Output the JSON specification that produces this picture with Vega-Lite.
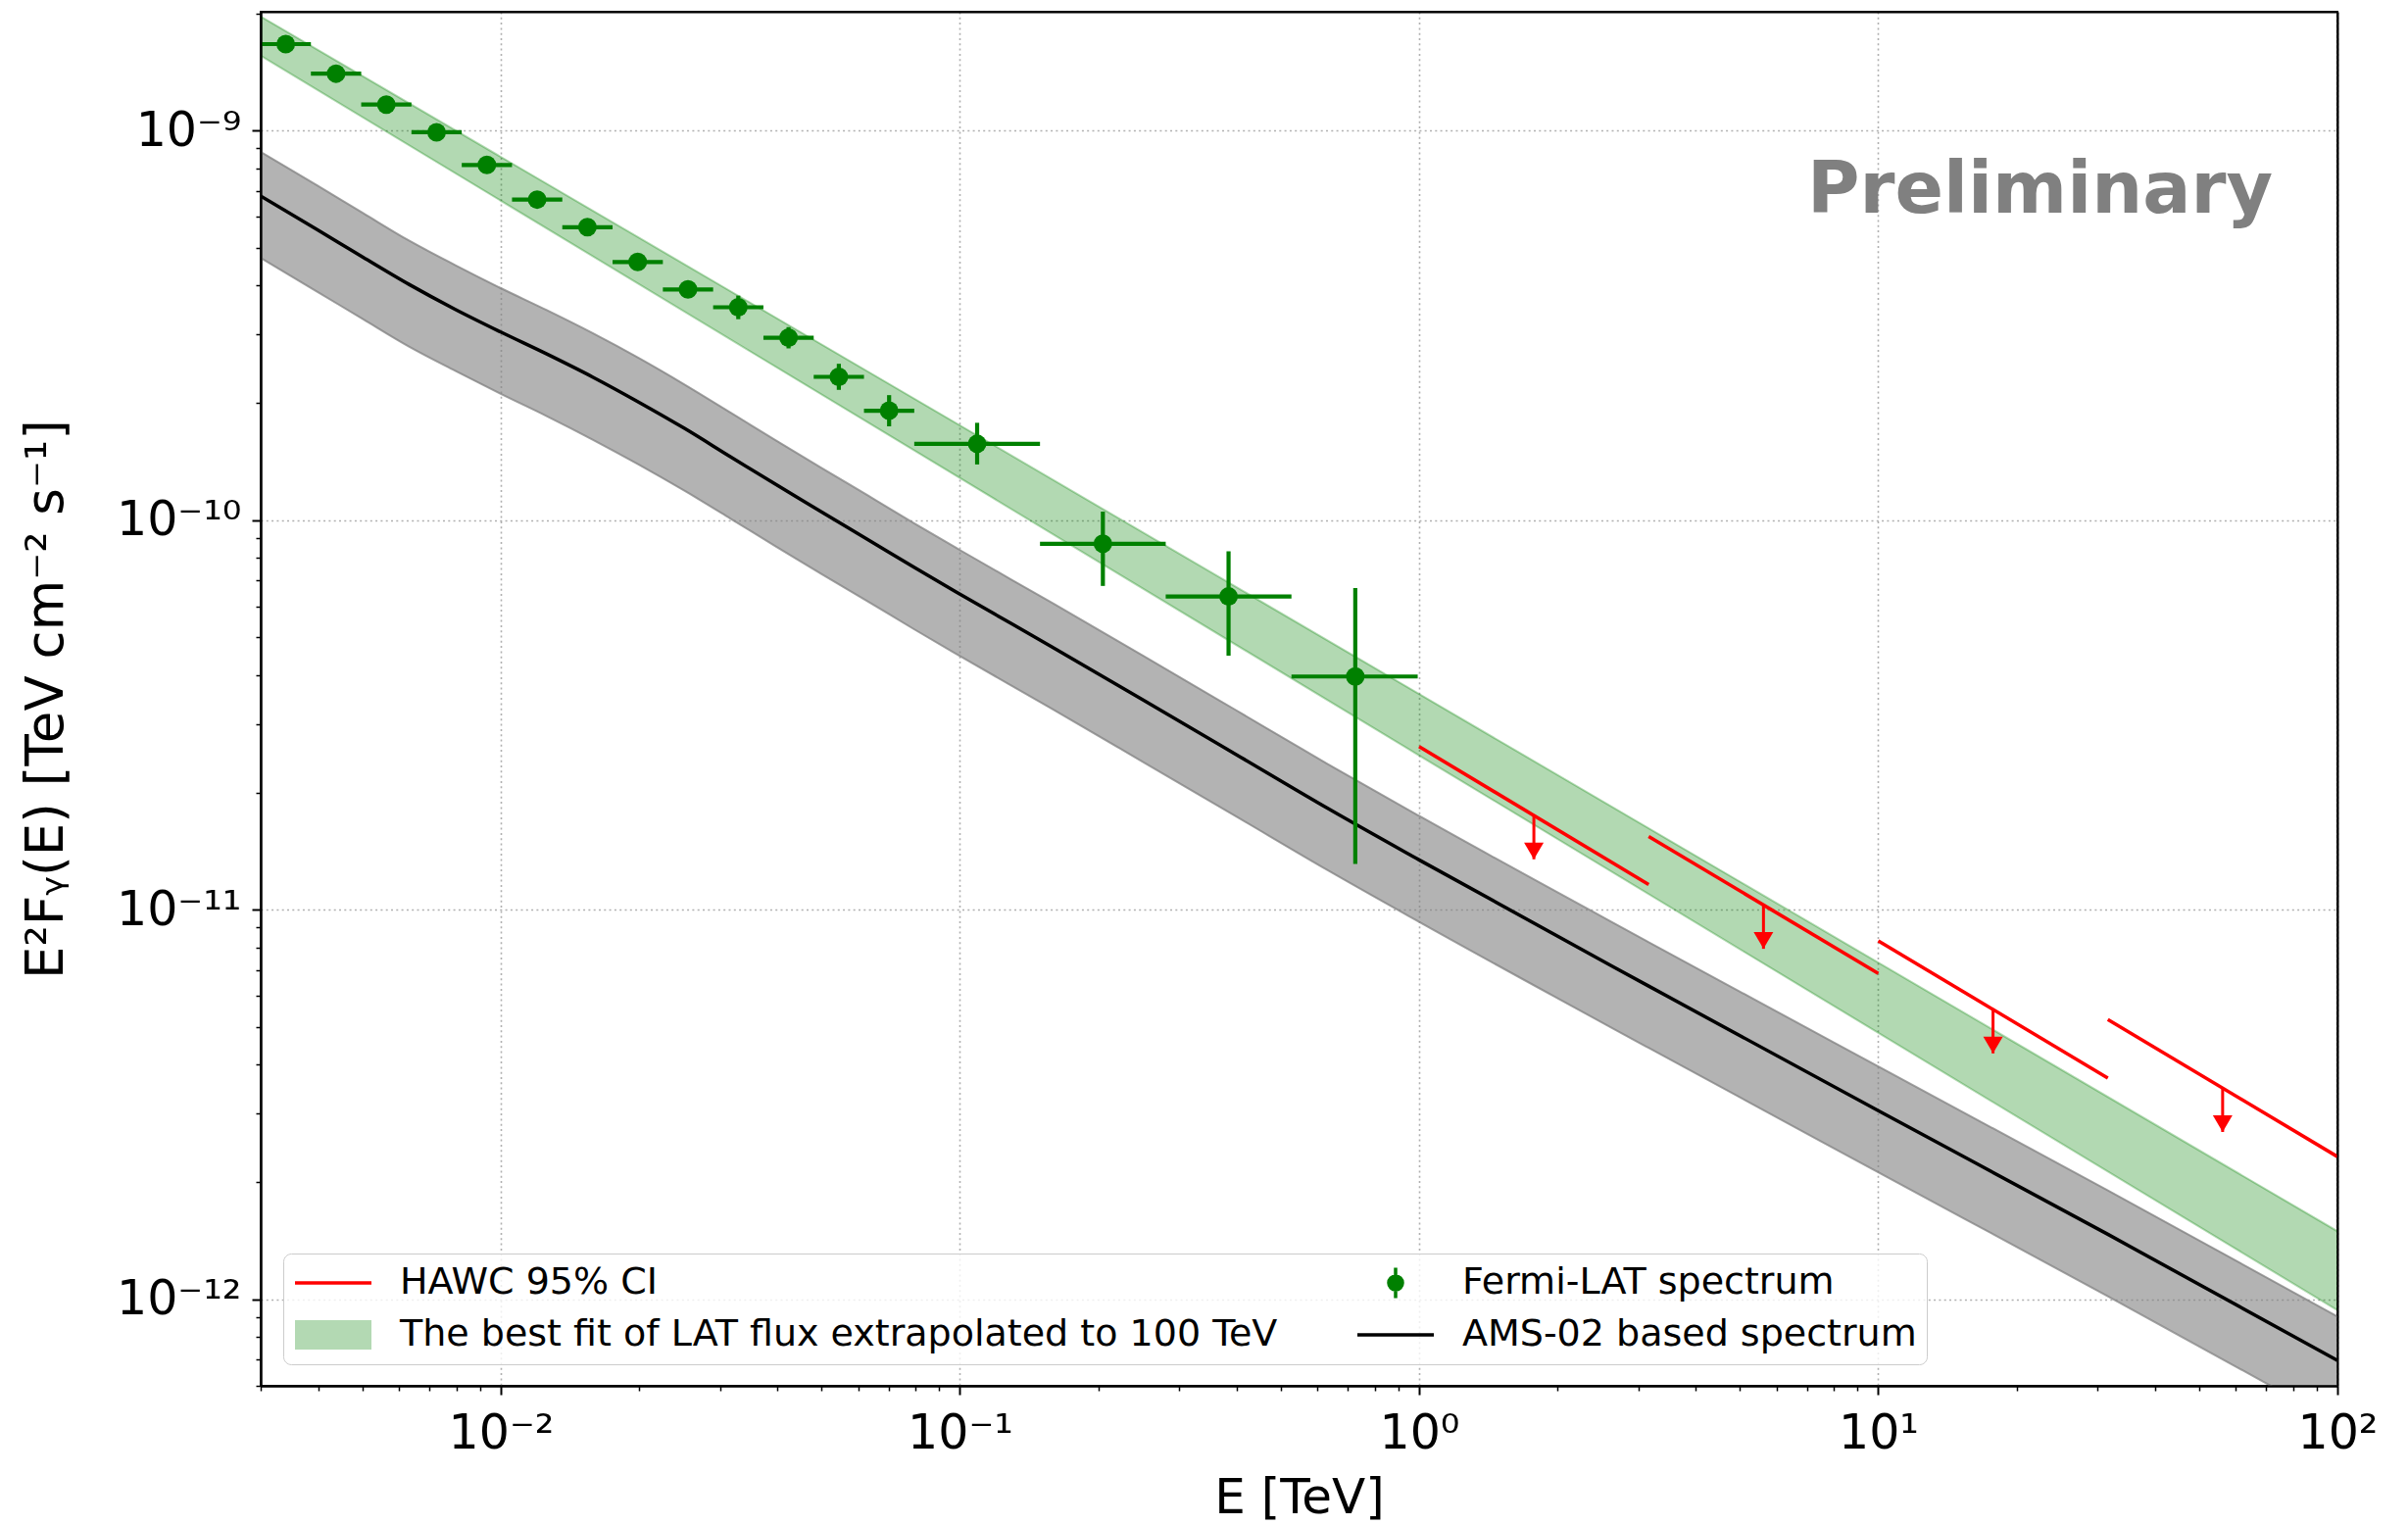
{
  "$schema": "https://vega.github.io/schema/vega-lite/v6.json",
  "width": 2119,
  "height": 1402,
  "autosize": {"type": "none"},
  "padding": {"left": 266, "top": 12, "right": 72, "bottom": 142},
  "background": "white",
  "config": {"view": {"stroke": "black", "strokeWidth": 2}, "font": "DejaVu Sans"},
  "resolve": {"axis": {"x": "independent", "y": "independent"}},
  "datasets": {
    "ams": [
      {"E": 0.003, "F": 6.79e-10, "lo": 4.71e-10, "hi": 8.81e-10},
      {"E": 0.003981, "F": 5.57e-10, "lo": 3.86e-10, "hi": 7.23e-10},
      {"E": 0.005012, "F": 4.73e-10, "lo": 3.28e-10, "hi": 6.14e-10},
      {"E": 0.00631, "F": 4.03e-10, "lo": 2.79e-10, "hi": 5.22e-10},
      {"E": 0.007943, "F": 3.48e-10, "lo": 2.42e-10, "hi": 4.52e-10},
      {"E": 0.01, "F": 3.04e-10, "lo": 2.11e-10, "hi": 3.94e-10},
      {"E": 0.01259, "F": 2.67e-10, "lo": 1.85e-10, "hi": 3.46e-10},
      {"E": 0.01585, "F": 2.33e-10, "lo": 1.61e-10, "hi": 3.02e-10},
      {"E": 0.01995, "F": 2.01e-10, "lo": 1.39e-10, "hi": 2.61e-10},
      {"E": 0.02512, "F": 1.72e-10, "lo": 1.19e-10, "hi": 2.23e-10},
      {"E": 0.03162, "F": 1.455e-10, "lo": 1.01e-10, "hi": 1.89e-10},
      {"E": 0.03981, "F": 1.233e-10, "lo": 8.55e-11, "hi": 1.6e-10},
      {"E": 0.05012, "F": 1.047e-10, "lo": 7.26e-11, "hi": 1.358e-10},
      {"E": 0.0631, "F": 8.91e-11, "lo": 6.18e-11, "hi": 1.156e-10},
      {"E": 0.07943, "F": 7.57e-11, "lo": 5.25e-11, "hi": 9.82e-11},
      {"E": 0.1, "F": 6.46e-11, "lo": 4.48e-11, "hi": 8.38e-11},
      {"E": 0.1585, "F": 4.73e-11, "lo": 3.28e-11, "hi": 6.14e-11},
      {"E": 0.2512, "F": 3.45e-11, "lo": 2.39e-11, "hi": 4.48e-11},
      {"E": 0.3981, "F": 2.51e-11, "lo": 1.74e-11, "hi": 3.26e-11},
      {"E": 0.631, "F": 1.824e-11, "lo": 1.265e-11, "hi": 2.37e-11},
      {"E": 1, "F": 1.343e-11, "lo": 9.31e-12, "hi": 1.742e-11},
      {"E": 3.162, "F": 6.37e-12, "lo": 4.42e-12, "hi": 8.26e-12},
      {"E": 10, "F": 3.05e-12, "lo": 2.12e-12, "hi": 3.96e-12},
      {"E": 31.62, "F": 1.469e-12, "lo": 1.019e-12, "hi": 1.905e-12},
      {"E": 100, "F": 6.97e-13, "lo": 4.83e-13, "hi": 9.04e-13}
    ],
    "fit": [
      {"E": 0.003, "lo": 1.557e-9, "hi": 1.963e-9},
      {"E": 1, "lo": 2.49e-11, "hi": 3.58e-11},
      {"E": 100, "lo": 9.38e-13, "hi": 1.496e-12}
    ],
    "fermi": [
      {"E": 0.003402, "F": 1.667e-9, "Elo": 0.003, "Ehi": 0.003859, "Flo": 1.635e-9, "Fhi": 1.7e-9},
      {"E": 0.004378, "F": 1.4e-9, "Elo": 0.003859, "Ehi": 0.004966, "Flo": 1.372e-9, "Fhi": 1.428e-9},
      {"E": 0.005633, "F": 1.166e-9, "Elo": 0.004966, "Ehi": 0.006389, "Flo": 1.142e-9, "Fhi": 1.19e-9},
      {"E": 0.007248, "F": 9.9e-10, "Elo": 0.006389, "Ehi": 0.008222, "Flo": 9.68e-10, "Fhi": 1.012e-9},
      {"E": 0.009327, "F": 8.16e-10, "Elo": 0.008222, "Ehi": 0.01058, "Flo": 7.96e-10, "Fhi": 8.36e-10},
      {"E": 0.012001, "F": 6.65e-10, "Elo": 0.01058, "Ehi": 0.013614, "Flo": 6.47e-10, "Fhi": 6.83e-10},
      {"E": 0.015443, "F": 5.65e-10, "Elo": 0.013614, "Ehi": 0.017518, "Flo": 5.48e-10, "Fhi": 5.82e-10},
      {"E": 0.019871, "F": 4.6e-10, "Elo": 0.017518, "Ehi": 0.022542, "Flo": 4.45e-10, "Fhi": 4.75e-10},
      {"E": 0.025571, "F": 3.91e-10, "Elo": 0.022542, "Ehi": 0.029007, "Flo": 3.77e-10, "Fhi": 4.06e-10},
      {"E": 0.032903, "F": 3.52e-10, "Elo": 0.029007, "Ehi": 0.037325, "Flo": 3.28e-10, "Fhi": 3.77e-10},
      {"E": 0.042339, "F": 2.94e-10, "Elo": 0.037325, "Ehi": 0.048028, "Flo": 2.76e-10, "Fhi": 3.13e-10},
      {"E": 0.054479, "F": 2.333e-10, "Elo": 0.048028, "Ehi": 0.061802, "Flo": 2.16e-10, "Fhi": 2.52e-10},
      {"E": 0.070103, "F": 1.91e-10, "Elo": 0.061802, "Ehi": 0.079524, "Flo": 1.741e-10, "Fhi": 2.094e-10},
      {"E": 0.109, "F": 1.57e-10, "Elo": 0.079524, "Ehi": 0.1494, "Flo": 1.39e-10, "Fhi": 1.778e-10},
      {"E": 0.20478, "F": 8.7e-11, "Elo": 0.1494, "Ehi": 0.28062, "Flo": 6.78e-11, "Fhi": 1.052e-10},
      {"E": 0.38459, "F": 6.37e-11, "Elo": 0.28062, "Ehi": 0.52722, "Flo": 4.49e-11, "Fhi": 8.32e-11},
      {"E": 0.72611, "F": 3.97e-11, "Elo": 0.52722, "Ehi": 0.993, "Flo": 1.311e-11, "Fhi": 6.7e-11}
    ],
    "hawc": [
      {"E1": 1, "E2": 3.162, "F1": 2.624e-11, "F2": 1.161e-11, "Ec": 1.778, "Fs": 1.745e-11, "Ft": 1.348e-11},
      {"E1": 3.162, "E2": 10, "F1": 1.543e-11, "F2": 6.86e-12, "Ec": 5.623, "Fs": 1.029e-11, "Ft": 7.94e-12},
      {"E1": 10, "E2": 31.62, "F1": 8.32e-12, "F2": 3.7e-12, "Ec": 17.78, "Fs": 5.548e-12, "Ft": 4.28e-12},
      {"E1": 31.62, "E2": 100, "F1": 5.23e-12, "F2": 2.325e-12, "Ec": 56.23, "Fs": 3.487e-12, "Ft": 2.69e-12}
    ],
    "note": [{"E": 22.5, "F": 6.17e-10, "label": "Preliminary"}],
    "legendItems": [
      {"series": "HAWC 95% CI"},
      {"series": "The best fit of LAT flux extrapolated to 100 TeV"},
      {"series": "Fermi-LAT spectrum"},
      {"series": "AMS-02 based spectrum"}
    ]
  },
  "layer": [
    {
      "data": {"name": "ams"},
      "mark": {"type": "area", "clip": true, "color": "#808080", "fillOpacity": 0.6, "interpolate": "monotone"},
      "encoding": {
        "x": {
          "field": "E", "type": "quantitative",
          "scale": {"type": "log", "domain": [0.003, 100], "nice": false},
          "axis": {
            "orient": "bottom",
            "values": [0.01, 0.1, 1, 10, 100],
            "title": "E [TeV]",
            "titleFont": "DejaVu Sans", "titleFontSize": 50, "titleFontWeight": "normal", "titleColor": "black",
            "titleY": 129, "titleBaseline": "alphabetic",
            "labelExpr": "datum.value < 0.05 ? '10⁻²' : datum.value < 0.5 ? '10⁻¹' : datum.value < 5 ? '10⁰' : datum.value < 50 ? '10¹' : '10²'",
            "labelFont": "DejaVu Sans", "labelFontSize": 49, "labelColor": "black",
            "labelPadding": 15, "labelFlush": false, "labelOverlap": false,
            "tickColor": "black", "tickSize": 9, "tickWidth": 2,
            "grid": true, "gridColor": "#b0b0b0", "gridDash": [2, 3.3], "gridWidth": 1.6,
            "domainColor": "black", "domainWidth": 2
          }
        },
        "y": {
          "field": "lo", "type": "quantitative",
          "scale": {"type": "log", "domain": [6e-13, 2.018e-9], "nice": false},
          "axis": {
            "orient": "left",
            "values": [1e-12, 1e-11, 1e-10, 1e-9],
            "title": "E²Fᵧ(E) [TeV cm⁻² s⁻¹]",
            "titleFont": "DejaVu Sans", "titleFontSize": 53, "titleFontWeight": "normal", "titleColor": "black",
            "titleX": -219, "titleBaseline": "middle",
            "labelExpr": "datum.value < 5e-12 ? '10⁻¹²' : datum.value < 5e-11 ? '10⁻¹¹' : datum.value < 5e-10 ? '10⁻¹⁰' : '10⁻⁹'",
            "labelFont": "DejaVu Sans", "labelFontSize": 49, "labelColor": "black",
            "labelPadding": 11, "labelOverlap": false, "labelFlush": false,
            "tickColor": "black", "tickSize": 9, "tickWidth": 2,
            "grid": true, "gridColor": "#b0b0b0", "gridDash": [2, 3.3], "gridWidth": 1.6,
            "domainColor": "black", "domainWidth": 2
          }
        },
        "y2": {"field": "hi"}
      }
    },
    {
      "data": {"name": "ams"},
      "mark": {"type": "line", "clip": true, "color": "#808080", "strokeOpacity": 0.75, "strokeWidth": 2, "interpolate": "monotone"},
      "encoding": {
        "x": {
          "field": "E", "type": "quantitative",
          "scale": {"type": "log", "domain": [0.003, 100], "nice": false},
          "axis": {
            "orient": "bottom", "zindex": 1,
            "values": [0.003,0.004,0.005,0.006,0.007,0.008,0.009,0.02,0.03,0.04,0.05,0.06,0.07,0.08,0.09,0.2,0.3,0.4,0.5,0.6,0.7,0.8,0.9,2,3,4,5,6,7,8,9,20,30,40,50,60,70,80,90],
            "title": null, "labels": false, "grid": false,
            "domain": true, "domainColor": "black", "domainWidth": 2,
            "tickColor": "black", "tickSize": 5, "tickWidth": 1.5
          }
        },
        "y": {
          "field": "hi", "type": "quantitative",
          "scale": {"type": "log", "domain": [6e-13, 2.018e-9], "nice": false},
          "axis": {
            "orient": "left", "zindex": 1,
            "values": [6e-13,7e-13,8e-13,9e-13,2e-12,3e-12,4e-12,5e-12,6e-12,7e-12,8e-12,9e-12,2e-11,3e-11,4e-11,5e-11,6e-11,7e-11,8e-11,9e-11,2e-10,3e-10,4e-10,5e-10,6e-10,7e-10,8e-10,9e-10,2e-9],
            "title": null, "labels": false, "grid": false,
            "domain": true, "domainColor": "black", "domainWidth": 2,
            "tickColor": "black", "tickSize": 5, "tickWidth": 1.5
          }
        }
      }
    },
    {
      "data": {"name": "ams"},
      "mark": {"type": "line", "clip": true, "color": "#808080", "strokeOpacity": 0.75, "strokeWidth": 2, "interpolate": "monotone"},
      "encoding": {
        "x": {
          "field": "E", "type": "quantitative",
          "scale": {"type": "log", "domain": [0.003, 100], "nice": false},
          "axis": {
            "orient": "top", "zindex": 1, "values": [],
            "title": null, "labels": false, "ticks": false, "grid": false,
            "domain": true, "domainColor": "black", "domainWidth": 2
          }
        },
        "y": {
          "field": "lo", "type": "quantitative",
          "scale": {"type": "log", "domain": [6e-13, 2.018e-9], "nice": false},
          "axis": {
            "orient": "right", "zindex": 1, "values": [],
            "title": null, "labels": false, "ticks": false, "grid": false,
            "domain": true, "domainColor": "black", "domainWidth": 2
          }
        }
      }
    },
    {
      "data": {"name": "fit"},
      "mark": {"type": "area", "clip": true, "color": "green", "fillOpacity": 0.3},
      "encoding": {
        "x": {"field": "E", "type": "quantitative", "scale": {"type": "log", "domain": [0.003, 100], "nice": false}, "axis": null},
        "y": {"field": "lo", "type": "quantitative", "scale": {"type": "log", "domain": [6e-13, 2.018e-9], "nice": false}, "axis": null},
        "y2": {"field": "hi"}
      }
    },
    {
      "data": {"name": "fit"},
      "mark": {"type": "line", "clip": true, "color": "green", "strokeOpacity": 0.3, "strokeWidth": 2},
      "encoding": {
        "x": {"field": "E", "type": "quantitative", "scale": {"type": "log", "domain": [0.003, 100], "nice": false}, "axis": null},
        "y": {"field": "hi", "type": "quantitative", "scale": {"type": "log", "domain": [6e-13, 2.018e-9], "nice": false}, "axis": null}
      }
    },
    {
      "data": {"name": "fit"},
      "mark": {"type": "line", "clip": true, "color": "green", "strokeOpacity": 0.3, "strokeWidth": 2},
      "encoding": {
        "x": {"field": "E", "type": "quantitative", "scale": {"type": "log", "domain": [0.003, 100], "nice": false}, "axis": null},
        "y": {"field": "lo", "type": "quantitative", "scale": {"type": "log", "domain": [6e-13, 2.018e-9], "nice": false}, "axis": null}
      }
    },
    {
      "data": {"name": "ams"},
      "mark": {"type": "line", "clip": true, "color": "black", "strokeWidth": 3.5, "interpolate": "monotone"},
      "encoding": {
        "x": {"field": "E", "type": "quantitative", "scale": {"type": "log", "domain": [0.003, 100], "nice": false}, "axis": null},
        "y": {"field": "F", "type": "quantitative", "scale": {"type": "log", "domain": [6e-13, 2.018e-9], "nice": false}, "axis": null}
      }
    },
    {
      "data": {"name": "hawc"},
      "mark": {"type": "rule", "clip": true, "color": "red", "strokeWidth": 3.5},
      "encoding": {
        "x": {"field": "E1", "type": "quantitative", "scale": {"type": "log", "domain": [0.003, 100], "nice": false}, "axis": null},
        "x2": {"field": "E2"},
        "y": {"field": "F1", "type": "quantitative", "scale": {"type": "log", "domain": [6e-13, 2.018e-9], "nice": false}, "axis": null},
        "y2": {"field": "F2"}
      }
    },
    {
      "data": {"name": "hawc"},
      "mark": {"type": "rule", "clip": true, "color": "red", "strokeWidth": 3},
      "encoding": {
        "x": {"field": "Ec", "type": "quantitative", "scale": {"type": "log", "domain": [0.003, 100], "nice": false}, "axis": null},
        "y": {"field": "Fs", "type": "quantitative", "scale": {"type": "log", "domain": [6e-13, 2.018e-9], "nice": false}, "axis": null},
        "y2": {"field": "Ft"}
      }
    },
    {
      "data": {"name": "hawc"},
      "mark": {"type": "point", "clip": true, "shape": "M-1,-1.7L1,-1.7L0,0Z", "size": 400, "filled": true, "color": "red", "opacity": 1},
      "encoding": {
        "x": {"field": "Ec", "type": "quantitative", "scale": {"type": "log", "domain": [0.003, 100], "nice": false}, "axis": null},
        "y": {"field": "Ft", "type": "quantitative", "scale": {"type": "log", "domain": [6e-13, 2.018e-9], "nice": false}, "axis": null}
      }
    },
    {
      "data": {"name": "fermi"},
      "mark": {"type": "rule", "clip": true, "color": "green", "strokeWidth": 4.2},
      "encoding": {
        "x": {"field": "Elo", "type": "quantitative", "scale": {"type": "log", "domain": [0.003, 100], "nice": false}, "axis": null},
        "x2": {"field": "Ehi"},
        "y": {"field": "F", "type": "quantitative", "scale": {"type": "log", "domain": [6e-13, 2.018e-9], "nice": false}, "axis": null}
      }
    },
    {
      "data": {"name": "fermi"},
      "mark": {"type": "rule", "clip": true, "color": "green", "strokeWidth": 4.2},
      "encoding": {
        "x": {"field": "E", "type": "quantitative", "scale": {"type": "log", "domain": [0.003, 100], "nice": false}, "axis": null},
        "y": {"field": "Flo", "type": "quantitative", "scale": {"type": "log", "domain": [6e-13, 2.018e-9], "nice": false}, "axis": null},
        "y2": {"field": "Fhi"}
      }
    },
    {
      "data": {"name": "fermi"},
      "mark": {"type": "point", "clip": true, "shape": "circle", "size": 361, "filled": true, "color": "green", "opacity": 1},
      "encoding": {
        "x": {"field": "E", "type": "quantitative", "scale": {"type": "log", "domain": [0.003, 100], "nice": false}, "axis": null},
        "y": {"field": "F", "type": "quantitative", "scale": {"type": "log", "domain": [6e-13, 2.018e-9], "nice": false}, "axis": null}
      }
    },
    {
      "data": {"name": "note"},
      "mark": {"type": "text", "align": "center", "baseline": "alphabetic", "font": "DejaVu Sans", "fontWeight": "bold", "fontSize": 73, "color": "#808080"},
      "encoding": {
        "x": {"field": "E", "type": "quantitative", "scale": {"type": "log", "domain": [0.003, 100], "nice": false}, "axis": null},
        "y": {"field": "F", "type": "quantitative", "scale": {"type": "log", "domain": [6e-13, 2.018e-9], "nice": false}, "axis": null},
        "text": {"field": "label"}
      }
    },
    {
      "data": {"name": "legendItems"},
      "mark": {"type": "point", "filled": false, "opacity": 0, "strokeWidth": 3.5},
      "encoding": {
        "color": {
          "field": "series", "type": "nominal", "sort": null,
          "scale": {
            "domain": ["HAWC 95% CI", "The best fit of LAT flux extrapolated to 100 TeV", "Fermi-LAT spectrum", "AMS-02 based spectrum"],
            "range": ["red", "#b3d9b3", "green", "black"]
          },
          "legend": {
            "title": null,
            "orient": "none",
            "legendX": 23,
            "legendY": 1267,
            "columns": 2,
            "columnPadding": 79,
            "rowPadding": 13,
            "padding": 10,
            "clipHeight": 40,
            "symbolSize": 6084,
            "symbolStrokeWidth": 3.5,
            "symbolOpacity": 1,
            "labelOffset": 27,
            "labelFont": "DejaVu Sans",
            "labelFontSize": 38,
            "labelColor": "black",
            "labelLimit": 3000,
            "fillColor": "rgba(255,255,255,0.8)",
            "strokeColor": "#cccccc",
            "cornerRadius": 8
          }
        },
        "shape": {
          "field": "series", "type": "nominal", "sort": null,
          "scale": {
            "domain": ["HAWC 95% CI", "The best fit of LAT flux extrapolated to 100 TeV", "Fermi-LAT spectrum", "AMS-02 based spectrum"],
            "range": [
              "M-1,0L1,0",
              "M-1,-0.34L1,-0.34M-1,-0.27L1,-0.27M-1,-0.2L1,-0.2M-1,-0.13L1,-0.13M-1,-0.06L1,-0.06M-1,0.01L1,0.01M-1,0.08L1,0.08M-1,0.15L1,0.15M-1,0.22L1,0.22M-1,0.29L1,0.29M-1,0.34L1,0.34",
              "M0,-0.4L0,0.4M-0.18,0A0.18 0.18 0 1 0 0.18 0A0.18 0.18 0 1 0 -0.18 0M-0.1,0A0.1 0.1 0 1 0 0.1 0A0.1 0.1 0 1 0 -0.1 0M-0.03,0A0.03 0.03 0 1 0 0.03 0A0.03 0.03 0 1 0 -0.03 0",
              "M-1,0L1,0"
            ]
          },
          "legend": {
            "title": null,
            "orient": "none",
            "legendX": 23,
            "legendY": 1267,
            "columns": 2,
            "columnPadding": 79,
            "rowPadding": 13,
            "padding": 10,
            "clipHeight": 40,
            "symbolSize": 6084,
            "symbolStrokeWidth": 3.5,
            "symbolOpacity": 1,
            "labelOffset": 27,
            "labelFont": "DejaVu Sans",
            "labelFontSize": 38,
            "labelColor": "black",
            "labelLimit": 3000,
            "fillColor": "rgba(255,255,255,0.8)",
            "strokeColor": "#cccccc",
            "cornerRadius": 8
          }
        }
      }
    }
  ]
}
